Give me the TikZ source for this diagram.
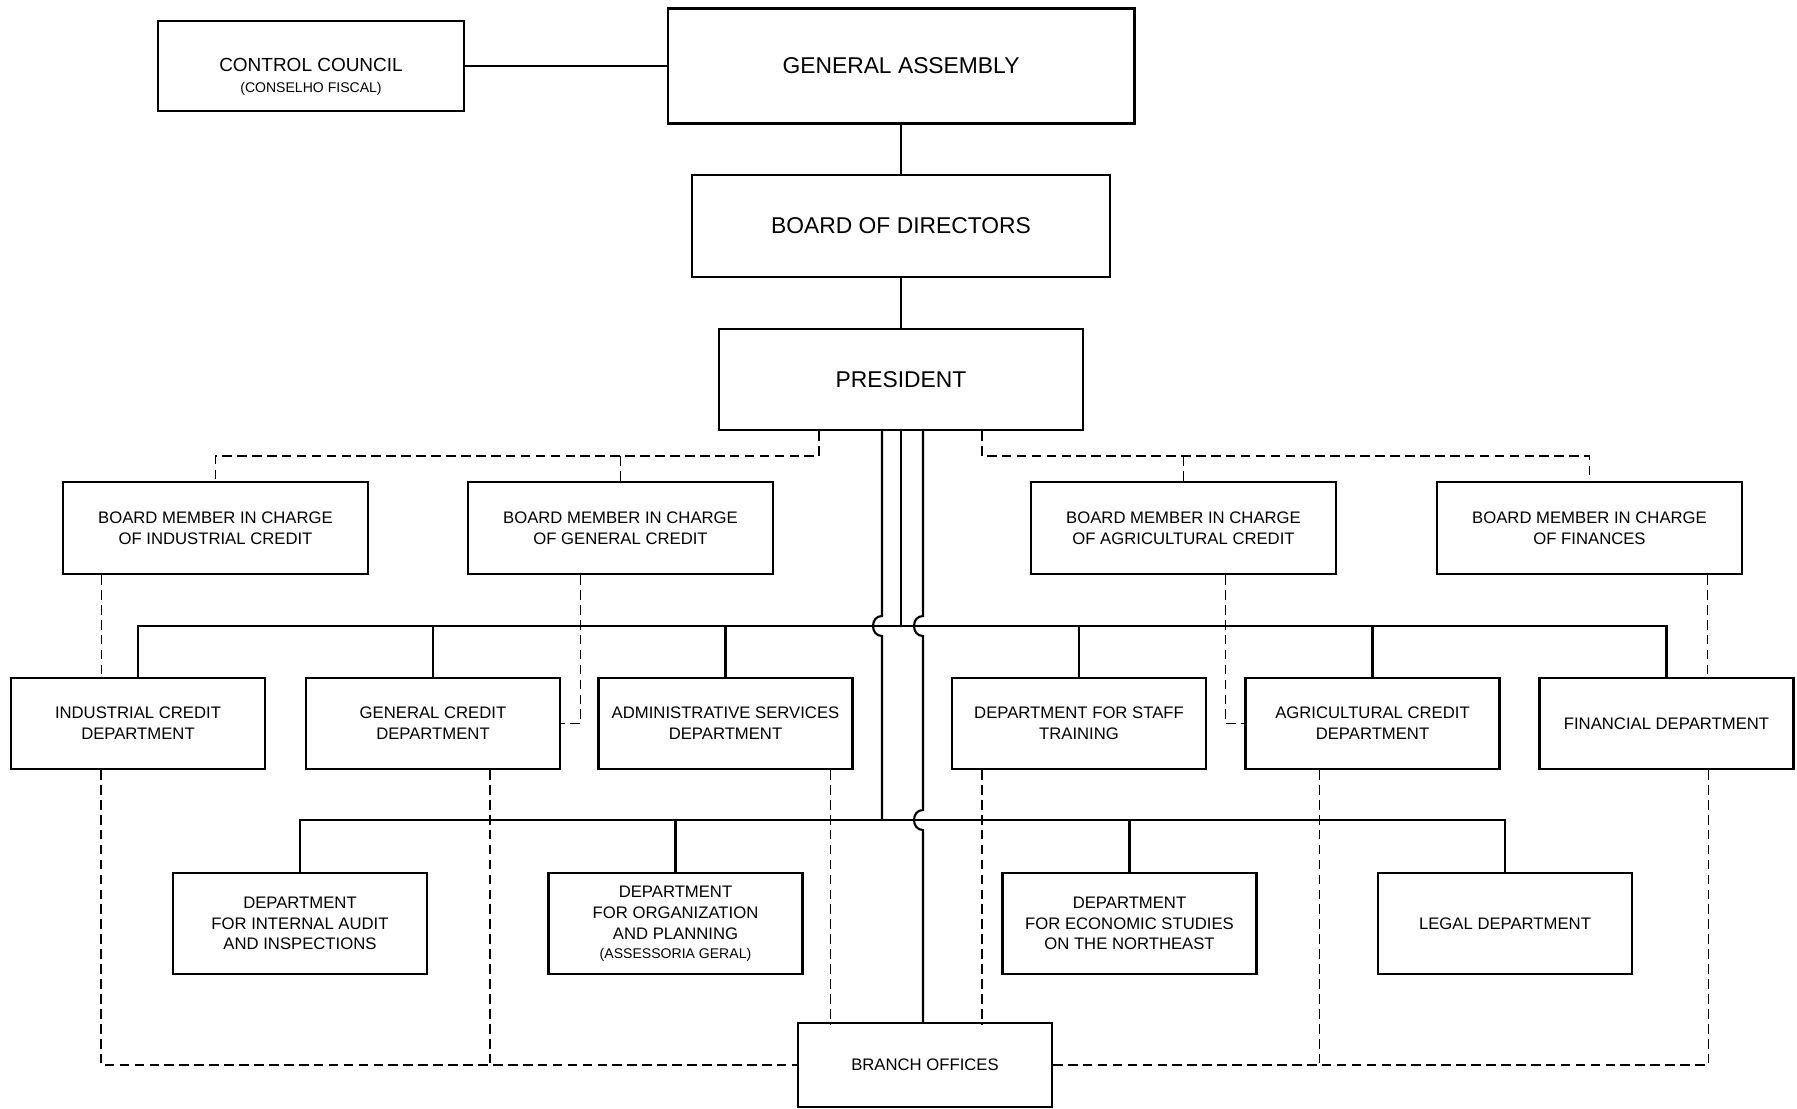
\documentclass[tikz,border=0pt]{standalone}
\usepackage{fontspec}
\setmainfont{Liberation Sans}
\usetikzlibrary{positioning,calc}

\tikzset{
    unit/.style={draw, line width=1.2pt, align=center, inner sep=1pt,
        font=\fontsize{9.5}{11.8}\selectfont},
    topbox/.style={unit, font=\fontsize{13}{16}\selectfont},
    memberbox/.style={unit, minimum width=6.1cm, minimum height=1.84cm},
    deptbox/.style={unit, minimum width=5.08cm, minimum height=1.82cm},
    staffbox/.style={unit, minimum width=5.08cm, minimum height=2.02cm},
    link/.style={line width=1.2pt},
    dashlink/.style={line width=1.1pt, dash pattern=on 5.5pt off 3pt},
}

\begin{document}
\begin{tikzpicture}[x=0.02cm,y=-0.02cm]
    \useasboundingbox (0,0) rectangle (1797,1108);

    % Top of the chart
    \node[unit, minimum width=6.12cm, minimum height=1.8cm, font=\fontsize{10.8}{13}\selectfont]
        (council) at (311,66) {\rule{0pt}{0.7cm}CONTROL COUNCIL\\[-1pt]{\fontsize{8}{9}\selectfont (CONSELHO FISCAL)}};
    \node[topbox, minimum width=9.34cm, minimum height=2.3cm] (assembly) at (901,66) {GENERAL ASSEMBLY};
    \node[topbox, minimum width=8.36cm, minimum height=2.04cm] (board) at (901,226) {BOARD OF DIRECTORS};
    \node[topbox, minimum width=7.28cm, minimum height=2.02cm] (president) at (901,379.5) {PRESIDENT};

    % Board members
    \node[memberbox] (bmind) at (215.5,528) {BOARD MEMBER IN CHARGE\\OF INDUSTRIAL CREDIT};
    \node[memberbox] (bmgen) at (620.5,528) {BOARD MEMBER IN CHARGE\\OF GENERAL CREDIT};
    \node[memberbox] (bmagr) at (1183.5,528) {BOARD MEMBER IN CHARGE\\OF AGRICULTURAL CREDIT};
    \node[memberbox] (bmfin) at (1589.5,528) {BOARD MEMBER IN CHARGE\\OF FINANCES};

    % Departments
    \node[deptbox] (inddept) at (138,723.5) {INDUSTRIAL CREDIT\\DEPARTMENT};
    \node[deptbox] (gendept) at (433,723.5) {GENERAL CREDIT\\DEPARTMENT};
    \node[deptbox] (admdept) at (725.5,723.5) {ADMINISTRATIVE SERVICES\\DEPARTMENT};
    \node[deptbox] (stfdept) at (1079,723.5) {DEPARTMENT FOR STAFF\\TRAINING};
    \node[deptbox] (agrdept) at (1372.5,723.5) {AGRICULTURAL CREDIT\\DEPARTMENT};
    \node[deptbox] (findept) at (1666.5,723.5) {FINANCIAL DEPARTMENT};

    % Staff departments
    \node[staffbox] (audit) at (300,923.5) {DEPARTMENT\\FOR INTERNAL AUDIT\\AND INSPECTIONS};
    \node[staffbox] (orgplan) at (675.5,923.5) {DEPARTMENT\\FOR ORGANIZATION\\AND PLANNING\\[-1pt]{\fontsize{8}{9}\selectfont (ASSESSORIA GERAL)}};
    \node[staffbox] (econ) at (1129.5,923.5) {DEPARTMENT\\FOR ECONOMIC STUDIES\\ON THE NORTHEAST};
    \node[staffbox] (legal) at (1505,923.5) {LEGAL DEPARTMENT};

    \node[unit, minimum width=5.08cm, minimum height=1.68cm] (branch) at (925,1065) {BRANCH OFFICES};

    % Solid lines
    \coordinate (trunkA) at (882,0);
    \coordinate (trunkB) at (901,0);
    \coordinate (trunkC) at (923,0);
    \coordinate (busA) at (0,626);
    \coordinate (busB) at (0,820);

    \draw[link] (council.east) -- (council.east -| assembly.west);
    \draw[link] (assembly.south) -- (board.north);
    \draw[link] (board.south) -- (president.north);

    \draw[link] (inddept.north) |- (findept.north |- busA) -- (findept.north);
    \foreach \d in {gendept,admdept,stfdept,agrdept}
        \draw[link] (\d.north) -- (\d.north |- busA);
    \draw[link] (audit.north) |- (legal.north |- busB) -- (legal.north);
    \foreach \d in {orgplan,econ}
        \draw[link] (\d.north) -- (\d.north |- busB);

    \draw[link] (president.south -| trunkA) -- (882,616)
        .. controls (870,616) and (870,636) .. (882,636) -- (trunkA |- busB);
    \draw[link] (president.south -| trunkB) -- (trunkB |- busA);
    \draw[link] (president.south -| trunkC) -- (923,616)
        .. controls (911,616) and (911,636) .. (923,636) -- (923,810)
        .. controls (911,810) and (911,830) .. (923,830) -- (branch.north -| trunkC);

    % Dashed lines
    \draw[dashlink] ($(president.south)+(-82,0)$) -- ++(0,25) -| (bmind.north);
    \draw[dashlink] (bmgen.north) -- ++(0,-27);
    \draw[dashlink] ($(president.south)+(81,0)$) -- ++(0,25) -| (bmfin.north);
    \draw[dashlink] (bmagr.north) -- ++(0,-27);

    \draw[dashlink] ($(bmind.south)+(-114,0)$) -- ++(0,104);
    \draw[dashlink] ($(bmgen.south)+(-40,0)$) |- (gendept.east);
    \draw[dashlink] ($(bmagr.south)+(42,0)$) |- (agrdept.west);
    \draw[dashlink] ($(bmfin.south)+(118,0)$) -- ++(0,104);

    \draw[dashlink] ($(inddept.south)+(-37,0)$) |- (branch.west);
    \draw[dashlink] ($(gendept.south)+(57,0)$) -- ++(0,296);
    \draw[dashlink] ($(admdept.south)+(105,0)$) -- ++(0,254);
    \draw[dashlink] ($(stfdept.south)+(-97,0)$) -- ++(0,254);
    \draw[dashlink] ($(agrdept.south)+(-53,0)$) -- ++(0,296);
    \draw[dashlink] ($(findept.south)+(42,0)$) |- (branch.east);
\end{tikzpicture}
\end{document}
